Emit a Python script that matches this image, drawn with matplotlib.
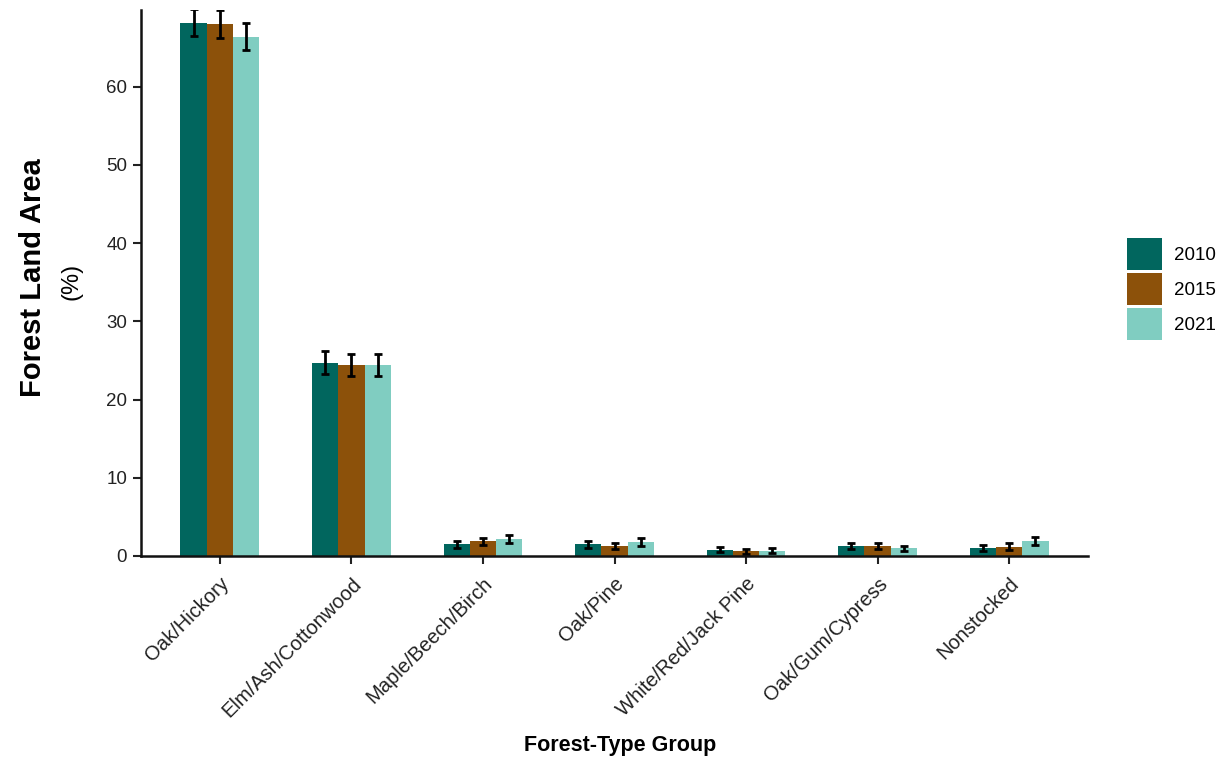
import numpy as np
import matplotlib.pyplot as plt

plt.rcParams['font.family'] = ['Liberation Sans', 'DejaVu Sans']

groups = ['Oak/Hickory', 'Elm/Ash/Cottonwood', 'Maple/Beech/Birch', 'Oak/Pine',
          'White/Red/Jack Pine', 'Oak/Gum/Cypress', 'Nonstocked']
years = ['2010', '2015', '2021']
colors = ['#01665e', '#8c510a', '#80cdc1']

v2010 = [68.2, 24.7, 1.5, 1.5, 0.8, 1.3, 1.05]
v2015 = [68.0, 24.4, 1.9, 1.3, 0.6, 1.25, 1.2]
v2021 = [66.4, 24.4, 2.2, 1.8, 0.7, 1.0, 1.9]
e2010 = [1.7, 1.45, 0.45, 0.45, 0.35, 0.35, 0.4]
e2015 = [1.8, 1.45, 0.45, 0.4, 0.35, 0.4, 0.4]
e2021 = [1.7, 1.45, 0.5, 0.5, 0.3, 0.3, 0.5]

vals = [v2010, v2015, v2021]
errs = [e2010, e2015, e2021]

fig = plt.figure(figsize=(12.22, 7.63), dpi=100)
ax = fig.add_axes([141/1222, 1 - 556/763, (1088-141)/1222, (556-10)/763])

x = np.arange(len(groups))
w = 0.2
for i in range(3):
    ax.bar(x + (i - 1) * w, vals[i], w, color=colors[i], label=years[i])
    ax.errorbar(x + (i - 1) * w, vals[i], yerr=errs[i], fmt='none',
                ecolor='black', elinewidth=2, capsize=2.8, capthick=2)

ax.set_xlim(-0.6, 6.6)
ax.set_ylim(0, 69.8)
ax.set_yticks(range(0, 70, 10))
ax.set_xticks(x)
ax.set_xticklabels(groups, rotation=45, ha='right', rotation_mode='anchor')
ax.tick_params(axis='both', colors='#222222', length=6, width=1.5)
ax.tick_params(axis='y', labelsize=13.5, pad=4)
ax.tick_params(axis='x', labelsize=14.5, pad=7)
for s in ['top', 'right']:
    ax.spines[s].set_visible(False)
for s in ['left', 'bottom']:
    ax.spines[s].set_linewidth(1.8)
    ax.spines[s].set_color('#111111')

fig.text(33/1222, 1 - 278/763, 'Forest Land Area', rotation=90, ha='center',
         va='center', fontsize=21, fontweight='bold')
fig.text(72/1222, 1 - 281/763, '(%)', rotation=90, ha='center', va='center',
         fontsize=17)
fig.text(620/1222, 1 - 746/763, 'Forest-Type Group', ha='center', va='center',
         fontsize=15.5, fontweight='bold')

fig.legend(loc='center left', bbox_to_anchor=(1127/1222, 1 - 289/763),
           bbox_transform=fig.transFigure, frameon=False, borderpad=0,
           borderaxespad=0, fontsize=13.5, handlelength=1.85,
           handleheight=2.2, labelspacing=0.2, handletextpad=0.65)

fig.savefig('out.png', dpi=100)
